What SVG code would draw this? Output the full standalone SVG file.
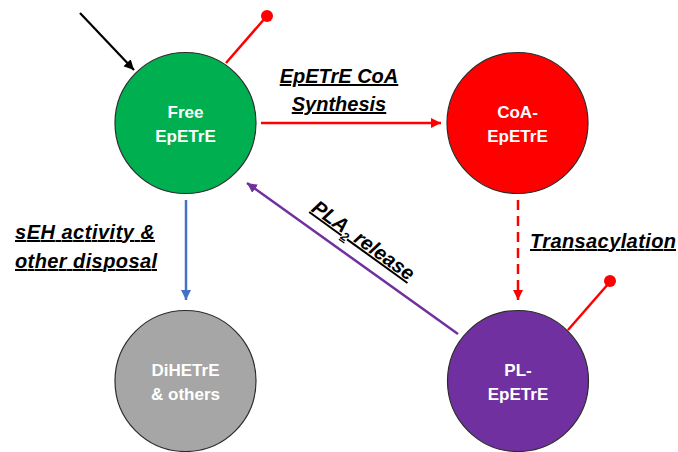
<svg xmlns="http://www.w3.org/2000/svg" width="678" height="452" viewBox="0 0 678 452">
<style>
.node{stroke:#2b2b2b;stroke-width:1.2}
.nt{font-family:"Liberation Sans",Arial,sans-serif;font-weight:bold;font-size:17px;fill:#fff;text-anchor:middle}
.lbl{font-family:"Liberation Sans",Arial,sans-serif;font-weight:bold;font-style:italic;font-size:20px;fill:#000;text-decoration:underline}
</style>
<defs>
<marker id="ab" markerUnits="userSpaceOnUse" markerWidth="12" markerHeight="12" refX="10" refY="5" orient="auto"><path d="M0,0 L10,5 L0,10 Z" fill="#000"/></marker>
<marker id="ar" markerUnits="userSpaceOnUse" markerWidth="12" markerHeight="12" refX="10" refY="5" orient="auto"><path d="M0,0 L10,5 L0,10 Z" fill="#FF0000"/></marker>
<marker id="au" markerUnits="userSpaceOnUse" markerWidth="12" markerHeight="12" refX="10" refY="5" orient="auto"><path d="M0,0 L10,5 L0,10 Z" fill="#4472C4"/></marker>
<marker id="ap" markerUnits="userSpaceOnUse" markerWidth="12" markerHeight="12" refX="10" refY="5" orient="auto"><path d="M0,0 L10,5 L0,10 Z" fill="#7030A0"/></marker>
</defs>
<g id="connectors" fill="none">
<line x1="80" y1="13" x2="134" y2="70" stroke="#000" stroke-width="2.2" marker-end="url(#ab)"/>
<line x1="226" y1="63" x2="266" y2="17" stroke="#FF0000" stroke-width="2.5"/>
<circle cx="267" cy="16" r="6" fill="#FF0000"/>
<line x1="261" y1="123" x2="441" y2="123" stroke="#FF0000" stroke-width="2.5" marker-end="url(#ar)"/>
<line x1="518" y1="200" x2="518" y2="300" stroke="#FF0000" stroke-width="2.5" stroke-dasharray="10,6" marker-end="url(#ar)"/>
<line x1="568" y1="330" x2="609" y2="283" stroke="#FF0000" stroke-width="2.5"/>
<circle cx="610" cy="281" r="6" fill="#FF0000"/>
<line x1="186" y1="200" x2="186" y2="300" stroke="#4472C4" stroke-width="2.5" marker-end="url(#au)"/>
<line x1="458" y1="334" x2="247" y2="183" stroke="#7030A0" stroke-width="2.5" marker-end="url(#ap)"/>
</g>
<g id="label-synthesis">
<text class="lbl" x="339" y="83" text-anchor="middle" font-size="19">EpETrE CoA</text>
<text class="lbl" x="339" y="111" text-anchor="middle" font-size="19">Synthesis</text>
</g>
<g id="label-seh">
<text class="lbl" x="15" y="239" textLength="140">sEH activity &amp;</text>
<text class="lbl" x="15" y="268" textLength="142">other disposal</text>
</g>
<g id="label-transacylation">
<text class="lbl" x="530" y="248" textLength="146">Transacylation</text>
</g>
<g id="label-pla2" transform="translate(363,241) rotate(35.8)">
<text class="lbl" x="0" y="6" text-anchor="middle" font-size="19">PLA<tspan font-size="12" dy="5">2</tspan><tspan dy="-5"> release</tspan></text>
</g>
<g id="node-free">
<circle class="node" cx="185.5" cy="123" r="70.5" fill="#00B050"/>
<text class="nt" x="185.5" y="118">Free</text>
<text class="nt" x="185.5" y="142">EpETrE</text>
</g>
<g id="node-coa">
<circle class="node" cx="517.5" cy="123" r="70.5" fill="#FF0000"/>
<text class="nt" x="517.5" y="118">CoA-</text>
<text class="nt" x="517.5" y="142">EpETrE</text>
</g>
<g id="node-pl">
<circle class="node" cx="518" cy="381" r="70.5" fill="#7030A0"/>
<text class="nt" x="518" y="376">PL-</text>
<text class="nt" x="518" y="400">EpETrE</text>
</g>
<g id="node-dihetre">
<circle class="node" cx="185.5" cy="381" r="70.5" fill="#A6A6A6"/>
<text class="nt" x="185.5" y="376">DiHETrE</text>
<text class="nt" x="185.5" y="400">&amp; others</text>
</g>
</svg>
